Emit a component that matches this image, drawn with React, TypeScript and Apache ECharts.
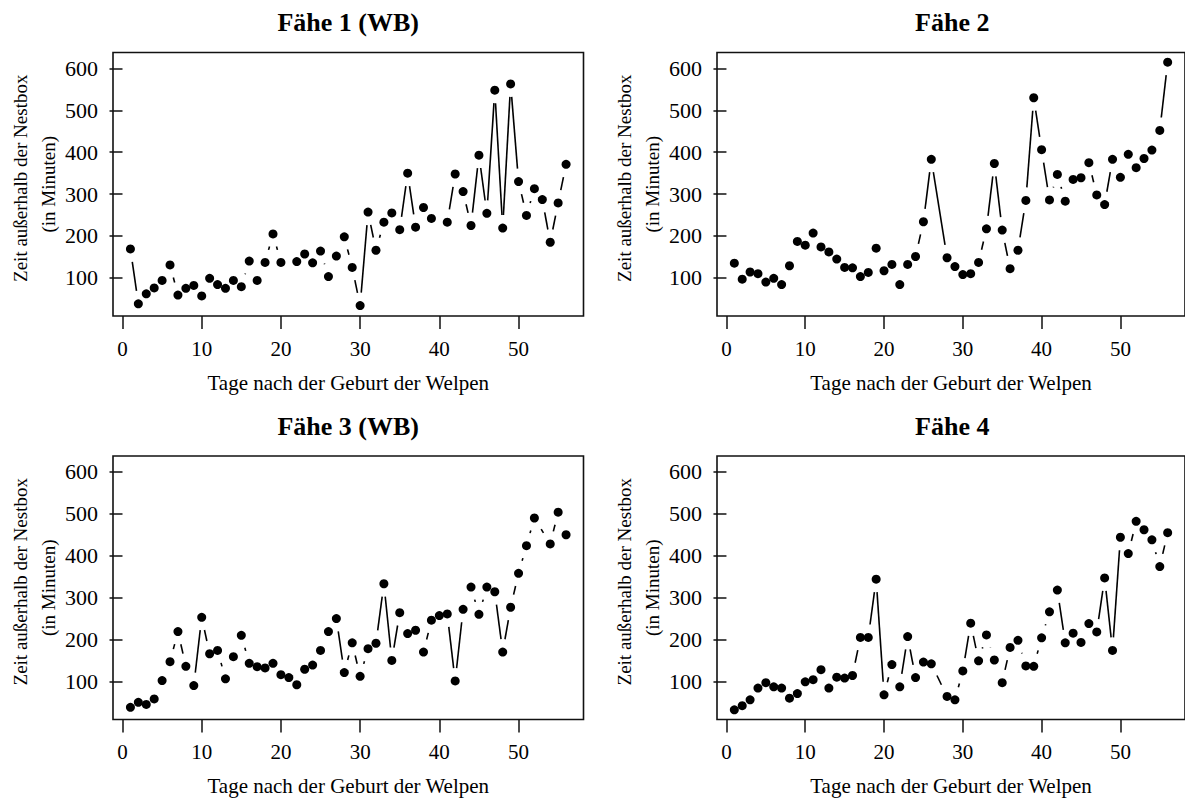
import React, { useEffect, useRef } from "react";
import * as echarts from "echarts";

// Days after birth (x values), shared by all panels
const days: number[] = Array.from({ length: 56 }, (_, i) => i + 1);

// Minutes outside the nest box, per female (null = no observation that day)
const faehe1: (number | null)[] = [
  169, 38, 62, 76, 94, 131, 59, 75, 82, 57,
  99, 84, 75, 94, 79, 140, 94, 137, 205, 137,
  null, 139, 157, 136, 164, 103, 152, 198, 125, 34,
  257, 166, 233, 255, 215, 350, 221, 268, 242, null,
  233, 348, 306, 225, 393, 254, 548, 219, 563, 330,
  249, 313, 287, 185, 279, 371,
];
const faehe2: (number | null)[] = [
  135, 97, 114, 110, 90, 99, 84, 129, 187, 178,
  207, 174, 162, 145, 125, 124, 103, 113, 171, 117,
  132, 84, 132, 151, 234, 383, null, 148, 127, 108,
  110, 137, 217, 373, 214, 122, 166, 285, 530, 406,
  286, 347, 283, 335, 339, 375, 298, 275, 383, 340,
  395, 363, 385, 405, 452, 615,
];
const faehe3: (number | null)[] = [
  38, 50, 45, 58, 102, 147, 219, 136, 90, 253,
  166, 174, 106, 159, 210, 143, 135, 132, 143, 116,
  109, 92, 129, 139, 174, 219, 250, 121, 192, 112,
  178, 191, 333, 150, 264, 214, 222, 170, 246, 257,
  261, 101, 272, 325, 260, 325, 314, 170, 277, 358,
  424, 490, null, 428, 504, 450,
];
const faehe4: (number | null)[] = [
  32, 42, 56, 84, 97, 87, 84, 60, 71, 99,
  104, 128, 84, 110, 108, 114, 205, 205, 344, 68,
  140, 87, 207, 109, 146, 142, null, 64, 56, 125,
  239, 149, 211, 151, 97, 181, 198, 137, 136, 204,
  266, 318, 192, 215, 193, 238, 218, 347, 174, 444,
  405, 482, 462, 438, 374, 455,
];

const titles: string[] = ["Fähe 1 (WB)", "Fähe 2", "Fähe 3 (WB)", "Fähe 4"];
const panelValues = [faehe1, faehe2, faehe3, faehe4];
const xTicks: number[] = [0, 10, 20, 30, 40, 50];
const yTicks: number[] = [100, 200, 300, 400, 500, 600];
const xLabel = "Tage nach der Geburt der Welpen";
const yLabel1 = "Zeit außerhalb der Nestbox";
const yLabel2 = "(in Minuten)";

const FONT = '"Liberation Serif", "DejaVu Serif", serif';
const GAP = 13;

export default function App() {
  const ref = useRef<HTMLDivElement>(null);

  useEffect(() => {
    if (!ref.current) return;
    const chart = echarts.init(ref.current, null, { renderer: "svg" });

    const boxes = [
      { left: 113, top: 52.5 },
      { left: 717, top: 52.5 },
      { left: 113, top: 456 },
      { left: 717, top: 456 },
    ];
    const W = 470.5;
    const H = 263.5;

    const grids: any[] = [];
    const xAxes: any[] = [];
    const yAxes: any[] = [];
    const series: any[] = [];
    const graphics: any[] = [];

    boxes.forEach((b, i) => {
      grids.push({
        left: b.left,
        top: b.top,
        width: W,
        height: H,
        show: true,
        borderColor: "#111",
        borderWidth: 1.6,
        backgroundColor: "transparent",
      });
      xAxes.push({
        type: "value",
        gridIndex: i,
        min: -1.2,
        max: 58.2,
        axisLine: { show: false },
        splitLine: { show: false },
        axisTick: {
          show: true,
          inside: false,
          length: 13,
          customValues: xTicks,
          lineStyle: { color: "#111", width: 1.5 },
        },
        axisLabel: {
          customValues: xTicks,
          margin: 22,
          color: "#000",
          fontSize: 21,
          fontFamily: FONT,
        },
        name: xLabel,
        nameLocation: "middle",
        nameGap: 56,
        nameTextStyle: { color: "#000", fontSize: 21, fontFamily: FONT },
      });
      yAxes.push({
        type: "value",
        gridIndex: i,
        min: 9,
        max: 638,
        axisLine: { show: false },
        splitLine: { show: false },
        axisTick: {
          show: true,
          inside: false,
          length: 13,
          customValues: yTicks,
          lineStyle: { color: "#111", width: 1.5 },
        },
        axisLabel: {
          customValues: yTicks,
          margin: 15,
          color: "#000",
          fontSize: 22,
          fontFamily: FONT,
        },
      });

      const vals = panelValues[i];
      const pts: number[][] = [];
      days.forEach((d, k) => {
        const v = vals[k];
        if (v !== null && v !== undefined) pts.push([d, v]);
      });
      const segs: number[][] = [];
      for (let k = 0; k + 1 < pts.length; k++) {
        segs.push([pts[k][0], pts[k][1], pts[k + 1][0], pts[k + 1][1]]);
      }

      series.push({
        type: "custom",
        xAxisIndex: i,
        yAxisIndex: i,
        data: segs,
        encode: { x: [0, 2], y: [1, 3] },
        clip: false,
        silent: true,
        renderItem: (params: any, api: any) => {
          const p0 = api.coord([api.value(0), api.value(1)]);
          const p1 = api.coord([api.value(2), api.value(3)]);
          const dx = p1[0] - p0[0];
          const dy = p1[1] - p0[1];
          const len = Math.sqrt(dx * dx + dy * dy);
          if (len <= 2 * GAP) return { type: "group", children: [] };
          const ux = dx / len;
          const uy = dy / len;
          return {
            type: "line",
            shape: {
              x1: p0[0] + ux * GAP,
              y1: p0[1] + uy * GAP,
              x2: p1[0] - ux * GAP,
              y2: p1[1] - uy * GAP,
            },
            style: { stroke: "#000", lineWidth: 1.6 },
          };
        },
      });
      series.push({
        type: "scatter",
        xAxisIndex: i,
        yAxisIndex: i,
        data: pts,
        symbol: "circle",
        symbolSize: 9,
        itemStyle: { color: "#000", opacity: 1 },
        silent: true,
      });

      const cx = b.left + W / 2;
      graphics.push({
        type: "text",
        x: cx,
        y: b.top - 30,
        style: {
          text: titles[i],
          fill: "#000",
          font: `bold 26px ${FONT}`,
          align: "center",
          verticalAlign: "middle",
          textAlign: "center",
          textVerticalAlign: "middle",
        },
      });
      const cy = b.top + H / 2;
      graphics.push({
        type: "text",
        x: b.left - 93,
        y: cy - 6,
        rotation: Math.PI / 2,
        style: {
          text: yLabel1,
          fill: "#000",
          font: `19px ${FONT}`,
          align: "center",
          verticalAlign: "middle",
          textAlign: "center",
          textVerticalAlign: "middle",
        },
      });
      graphics.push({
        type: "text",
        x: b.left - 65,
        y: cy,
        rotation: Math.PI / 2,
        style: {
          text: yLabel2,
          fill: "#000",
          font: `19px ${FONT}`,
          align: "center",
          verticalAlign: "middle",
          textAlign: "center",
          textVerticalAlign: "middle",
        },
      });
    });

    chart.setOption({
      animation: false,
      backgroundColor: "#fff",
      textStyle: { fontFamily: FONT },
      grid: grids,
      xAxis: xAxes,
      yAxis: yAxes,
      series,
      graphic: graphics,
    });

    return () => chart.dispose();
  }, []);

  return (
    <div
      ref={ref}
      style={{ position: "absolute", left: 0, top: 0, width: 1185, height: 801 }}
    />
  );
}
